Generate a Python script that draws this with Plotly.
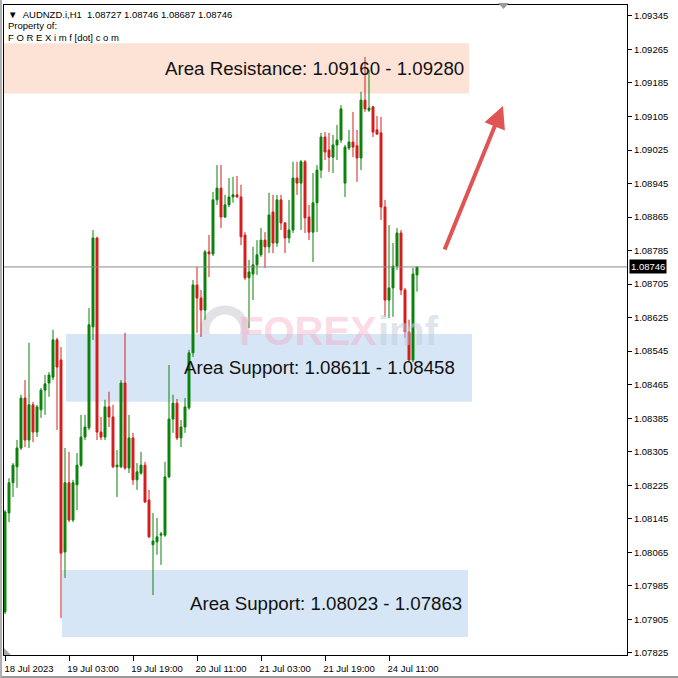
import plotly.graph_objects as go

# ---------------- data ----------------
opens = [1.07923, 1.08159, 1.08231, 1.08269, 1.08314, 1.08433, 1.08333, 1.08417, 1.08352, 1.08405,
         1.08452, 1.08469, 1.08483, 1.08572, 1.08524, 1.08066, 1.08231, 1.08142, 1.08226, 1.08273,
         1.08340, 1.08362, 1.08603, 1.08815, 1.08352, 1.08340, 1.08412, 1.08388, 1.08269, 1.08269,
         1.08469, 1.08266, 1.08338, 1.08238, 1.08254, 1.08273, 1.08190, 1.08083, 1.08090, 1.08106,
         1.08106, 1.08245, 1.08383, 1.08421, 1.08338, 1.08364, 1.08410, 1.08541, 1.08703, 1.08672,
         1.08643, 1.08782, 1.08777, 1.08906, 1.08934, 1.08865, 1.08894, 1.08913, 1.08918, 1.08913,
         1.08822, 1.08720, 1.08729, 1.08751, 1.08775, 1.08810, 1.08794, 1.08877, 1.08803, 1.08906,
         1.08851, 1.08815, 1.08834, 1.08958, 1.08946, 1.08997, 1.08865, 1.08829, 1.08899, 1.08977,
         1.09056, 1.09025, 1.09008, 1.09037, 1.09049, 1.08946, 1.09030, 1.09044, 1.09035, 1.09006,
         1.09144, 1.09120, 1.09128, 1.09073, 1.09066, 1.08889, 1.08667, 1.08696, 1.08748, 1.08827,
         1.08691, 1.08591, 1.08524, 1.08727]
highs = [1.08166, 1.08242, 1.08278, 1.08333, 1.08441, 1.08476, 1.08565, 1.08424, 1.08417, 1.08457,
         1.08488, 1.08495, 1.08596, 1.08577, 1.08555, 1.08314, 1.08305, 1.08238, 1.08302, 1.08393,
         1.08393, 1.08648, 1.08834, 1.08818, 1.08388, 1.08429, 1.08448, 1.08417, 1.08309, 1.08476,
         1.08589, 1.08393, 1.08350, 1.08278, 1.08305, 1.08281, 1.08214, 1.08159, 1.08147, 1.08114,
         1.08281, 1.08512, 1.08441, 1.08431, 1.08381, 1.08433, 1.08548, 1.08715, 1.08746, 1.08691,
         1.08786, 1.08822, 1.08925, 1.08989, 1.08989, 1.08918, 1.08958, 1.08961, 1.08963, 1.08942,
         1.08829, 1.08763, 1.08794, 1.08810, 1.08839, 1.08829, 1.08923, 1.08918, 1.08918, 1.08918,
         1.08853, 1.08906, 1.08997, 1.08997, 1.09001, 1.09001, 1.08894, 1.08970, 1.08989, 1.09066,
         1.09068, 1.09066, 1.09061, 1.09085, 1.09132, 1.09037, 1.09073, 1.09116, 1.09073, 1.09164,
         1.09247, 1.09216, 1.09130, 1.09106, 1.09104, 1.08906, 1.08846, 1.08803, 1.08839, 1.08834,
         1.08696, 1.08620, 1.08744, 1.08746]
lows = [1.07918, 1.08137, 1.08197, 1.08219, 1.08309, 1.08316, 1.08314, 1.08328, 1.08340, 1.08386,
        1.08393, 1.08436, 1.08476, 1.08357, 1.07908, 1.08004, 1.08137, 1.08137, 1.08166, 1.08269,
        1.08333, 1.08357, 1.08572, 1.08333, 1.08333, 1.08333, 1.08364, 1.08266, 1.08197, 1.08266,
        1.08262, 1.08254, 1.08226, 1.08214, 1.08250, 1.08183, 1.08099, 1.07963, 1.08059, 1.08035,
        1.08102, 1.08242, 1.08350, 1.08333, 1.08316, 1.08350, 1.08405, 1.08531, 1.08589, 1.08579,
        1.08620, 1.08722, 1.08772, 1.08894, 1.08839, 1.08863, 1.08889, 1.08899, 1.08911, 1.08798,
        1.08715, 1.08600, 1.08667, 1.08727, 1.08770, 1.08744, 1.08779, 1.08779, 1.08794, 1.08834,
        1.08779, 1.08803, 1.08827, 1.08918, 1.08834, 1.08827, 1.08810, 1.08758, 1.08829, 1.08958,
        1.09001, 1.08973, 1.08970, 1.09001, 1.09042, 1.08913, 1.09025, 1.09008, 1.08949, 1.08977,
        1.09116, 1.09116, 1.09056, 1.09061, 1.08858, 1.08627, 1.08624, 1.08627, 1.08739, 1.08679,
        1.08577, 1.08519, 1.08519, 1.08687]
closes = [1.08161, 1.08231, 1.08273, 1.08314, 1.08433, 1.08333, 1.08417, 1.08352, 1.08412, 1.08452,
          1.08467, 1.08488, 1.08572, 1.08507, 1.08063, 1.08231, 1.08142, 1.08231, 1.08273, 1.08340,
          1.08364, 1.08608, 1.08815, 1.08352, 1.08340, 1.08412, 1.08388, 1.08269, 1.08273, 1.08469,
          1.08266, 1.08338, 1.08238, 1.08257, 1.08273, 1.08185, 1.08102, 1.08092, 1.08102, 1.08109,
          1.08245, 1.08383, 1.08421, 1.08338, 1.08364, 1.08412, 1.08541, 1.08703, 1.08672, 1.08643,
          1.08782, 1.08777, 1.08906, 1.08934, 1.08865, 1.08894, 1.08913, 1.08918, 1.08913, 1.08818,
          1.08720, 1.08734, 1.08751, 1.08775, 1.08810, 1.08794, 1.08870, 1.08803, 1.08906, 1.08851,
          1.08815, 1.08834, 1.08958, 1.08946, 1.08997, 1.08863, 1.08829, 1.08899, 1.08977, 1.09056,
          1.09020, 1.09008, 1.09037, 1.09049, 1.09123, 1.09032, 1.09044, 1.09032, 1.09006, 1.09144,
          1.09123, 1.09125, 1.09068, 1.09063, 1.08889, 1.08667, 1.08696, 1.08748, 1.08827, 1.08691,
          1.08591, 1.08524, 1.08729, 1.08746]

bar_index = list(range(len(opens)))

time_tick_index = [0, 16, 32, 48, 64, 80, 96]
time_tick_labels = ["18 Jul 2023", "19 Jul 03:00", "19 Jul 19:00", "20 Jul 11:00",
                    "21 Jul 03:00", "21 Jul 19:00", "24 Jul 11:00"]

price_ticks = [1.07825, 1.07905, 1.07985, 1.08065, 1.08145, 1.08225, 1.08305, 1.08385,
               1.08465, 1.08545, 1.08625, 1.08705, 1.08785, 1.08865, 1.08945, 1.09025,
               1.09105, 1.09185, 1.09265, 1.09345]
price_tick_labels = ["%.5f" % v for v in price_ticks]

last_price = 1.08746
header_values = [1.08727, 1.08746, 1.08687, 1.08746]
symbol = "AUDNZD.i,H1"

# zones: drawn band (low, high) and the numbers printed in their labels
zone_titles = ["Area Resistance", "Area Support", "Area Support"]
zone_band_low = [1.09160, 1.08424, 1.07863]
zone_band_high = [1.09280, 1.08586, 1.08023]
zone_label_a = ["1.09160", "1.08611", "1.08023"]
zone_label_b = ["1.09280", "1.08458", "1.07863"]
zone_start_bar = [-1.0, 15.25, 14.25]
zone_end_bar = [116.0, 116.75, 115.75]
zone_text_right_bar = [115.25, 113.0, 114.75]
zone_colors = ["#fde3d6", "#d6e6f6", "#d6e6f6"]

# projected move arrow (tail -> head)
arrow_tail = (109.75, 1.08784)
arrow_head = (124.5, 1.09130)

# ---------------- figure ----------------
FONT = "Liberation Sans, Arial, sans-serif"
W, H = 678, 678
ML, MR, MT, MB = 4, 51, 5, 23
PW, PH = W - ML - MR, H - MT - MB

fig = go.Figure()
fig.add_trace(go.Candlestick(
    x=bar_index, open=opens, high=highs, low=lows, close=closes,
    increasing=dict(line=dict(color="#0b820b", width=1), fillcolor="#0b820b"),
    decreasing=dict(line=dict(color="#d41c1c", width=1), fillcolor="#d41c1c"),
    whiskerwidth=0, showlegend=False, hoverinfo="skip",
))

shapes = []
annotations = []
for i in range(len(zone_titles)):
    shapes.append(dict(type="rect", xref="x", yref="y", layer="below",
                       x0=zone_start_bar[i], x1=zone_end_bar[i],
                       y0=zone_band_low[i], y1=zone_band_high[i],
                       fillcolor=zone_colors[i], line=dict(width=0)))
    annotations.append(dict(xref="x", yref="y", x=zone_text_right_bar[i],
                            y=(zone_band_low[i] + zone_band_high[i]) / 2,
                            xanchor="right", yanchor="middle", showarrow=False,
                            text=f"{zone_titles[i]}: {zone_label_a[i]} - {zone_label_b[i]}",
                            font=dict(family=FONT, size=18.7, color="#111111")))

# watermark logo
def px_to_paper_x(px):
    return (px - ML) / PW

def px_to_paper_y(py):
    return (H - MB - py) / PH

shapes.append(dict(type="circle", xref="paper", yref="paper", layer="below",
                   x0=px_to_paper_x(205), x1=px_to_paper_x(245),
                   y0=px_to_paper_y(350), y1=px_to_paper_y(310),
                   fillcolor="rgba(0,0,0,0)", line=dict(color="rgba(200,200,210,0.55)", width=9)))
annotations.append(dict(xref="paper", yref="paper", x=px_to_paper_x(237), y=px_to_paper_y(331),
                        xanchor="left", yanchor="middle", showarrow=False, text="<b>FOREX</b>",
                        font=dict(family=FONT, size=40, color="rgba(245,160,190,0.40)")))
annotations.append(dict(xref="paper", yref="paper", x=px_to_paper_x(376), y=px_to_paper_y(331),
                        xanchor="left", yanchor="middle", showarrow=False, text="<b>imf</b>",
                        font=dict(family=FONT, size=40, color="rgba(195,205,222,0.55)")))

# last price line and tag
shapes.append(dict(type="line", xref="paper", yref="y", x0=0, x1=1, y0=last_price, y1=last_price,
                   line=dict(color="#8a8a8a", width=1)))
annotations.append(dict(xref="paper", yref="y", x=1, y=last_price, xanchor="left", yanchor="middle",
                        xshift=2, showarrow=False, text="%.5f" % last_price, bgcolor="#000000",
                        borderpad=1, font=dict(family=FONT, size=9.5, color="#ffffff")))

# small MT4 markers (chart shift at top, corner at bottom-left)
shapes.append(dict(type="path", xref="paper", yref="paper",
                   path=f"M {px_to_paper_x(498)} {px_to_paper_y(3)} L {px_to_paper_x(509)} {px_to_paper_y(3)} "
                        f"L {px_to_paper_x(503.5)} {px_to_paper_y(9)} Z",
                   fillcolor="#9a9a9a", line=dict(width=0)))
shapes.append(dict(type="path", xref="paper", yref="paper",
                   path=f"M {px_to_paper_x(4)} {px_to_paper_y(648)} L {px_to_paper_x(11)} {px_to_paper_y(655)} "
                        f"L {px_to_paper_x(4)} {px_to_paper_y(655)} Z",
                   fillcolor="#a8a8a8", line=dict(width=0)))
# window frame edges
shapes.append(dict(type="line", xref="paper", yref="paper",
                   x0=px_to_paper_x(0), x1=px_to_paper_x(678), y0=px_to_paper_y(677), y1=px_to_paper_y(677),
                   line=dict(color="#9a9a9a", width=2)))
shapes.append(dict(type="line", xref="paper", yref="paper",
                   x0=px_to_paper_x(1), x1=px_to_paper_x(1), y0=px_to_paper_y(0), y1=px_to_paper_y(678),
                   line=dict(color="#b0b0b0", width=2)))

# arrow
annotations.append(dict(xref="x", yref="y", axref="x", ayref="y",
                        x=arrow_head[0], y=arrow_head[1], ax=arrow_tail[0], ay=arrow_tail[1],
                        text="", showarrow=True, arrowhead=2, arrowsize=1.1, arrowwidth=4,
                        arrowcolor="#e05454"))

# header text
header_lines = [
    "▼&nbsp;&nbsp;" + symbol + "&nbsp;&nbsp;" + " ".join("%.5f" % v for v in header_values),
    "Property of:",
    "F O R E X i m f [dot] c o m",
]
header_shift = [-9, -20, -32]
for line, ys in zip(header_lines, header_shift):
    annotations.append(dict(xref="paper", yref="paper", x=0, y=1, xanchor="left", yanchor="middle",
                            xshift=2, yshift=ys, showarrow=False, text=line,
                            font=dict(family=FONT, size=9.5, color="#000000")))

fig.update_layout(
    width=W, height=H,
    margin=dict(l=ML, r=MR, t=MT, b=MB, pad=0),
    paper_bgcolor="#ffffff", plot_bgcolor="#ffffff",
    shapes=shapes, annotations=annotations,
    showlegend=False,
    xaxis=dict(range=[-0.25, 155.5], rangeslider=dict(visible=False), showgrid=False, zeroline=False,
               tickmode="array", tickvals=time_tick_index, ticktext=time_tick_labels,
               ticks="outside", ticklen=5, tickcolor="#000000", ticklabelshift=24,
               showline=True, linecolor="#000000", linewidth=1, mirror=True,
               tickfont=dict(family=FONT, size=9.5, color="#000000")),
    yaxis=dict(range=[1.07820, 1.09371], side="right", showgrid=False, zeroline=False,
               tickmode="array", tickvals=price_ticks, ticktext=price_tick_labels,
               ticks="outside", ticklen=4, tickcolor="#000000",
               showline=True, linecolor="#000000", linewidth=1, mirror=True,
               tickfont=dict(family=FONT, size=9.5, color="#000000")),
)

fig.write_html("out.html", config={"displayModeBar": False},
               post_script="document.body.style.margin='0';document.body.style.padding='0';")
